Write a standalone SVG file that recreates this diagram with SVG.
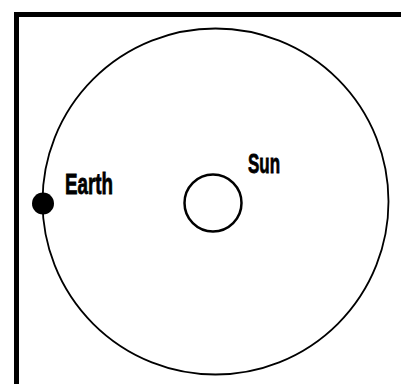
<svg xmlns="http://www.w3.org/2000/svg" width="401" height="384" viewBox="0 0 401 384">
  <style>
    .lbl { font-family: "Liberation Sans", Arial, sans-serif; font-weight: bold; fill: #000; stroke: #000; stroke-width: 0.8; }
  </style>
  <rect width="401" height="384" fill="#fff"/>
  <g id="frame">
    <path d="M16.5 384 V14.5 H401" fill="none" stroke="#000" stroke-width="5"/>
  </g>
  <g id="orbit">
    <circle cx="215.5" cy="201.5" r="173" fill="none" stroke="#000" stroke-width="1.8"/>
  </g>
  <g id="sun">
    <circle cx="213" cy="203" r="28.5" fill="none" stroke="#000" stroke-width="2.5"/>
    <text class="lbl" x="248" y="173" font-size="27" textLength="32" lengthAdjust="spacingAndGlyphs">Sun</text>
  </g>
  <g id="earth">
    <circle cx="43" cy="203.5" r="11" fill="#000"/>
    <text class="lbl" x="65" y="194" font-size="29" textLength="48" lengthAdjust="spacingAndGlyphs">Earth</text>
  </g>
</svg>
